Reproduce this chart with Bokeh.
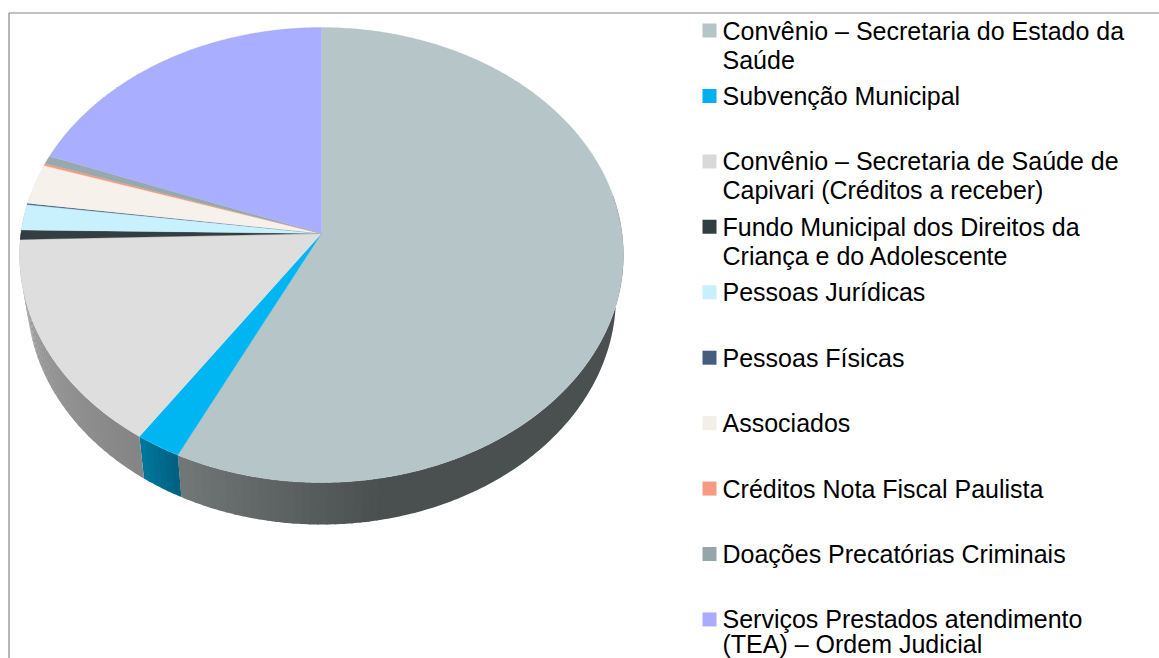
import math
import numpy as np
from bokeh.plotting import figure
from bokeh.models import Range1d
from bokeh.embed import file_html
from bokeh.resources import INLINE
from bokeh.core.properties import value

# ---------------- data ----------------
categories = [
    "Convênio – Secretaria do Estado da Saúde",
    "Subvenção Municipal",
    "Convênio – Secretaria de Saúde de Capivari (Créditos a receber)",
    "Fundo Municipal dos Direitos da Criança e do Adolescente",
    "Pessoas Jurídicas",
    "Pessoas Físicas",
    "Associados",
    "Créditos Nota Fiscal Paulista",
    "Doações Precatórias Criminais",
    "Serviços Prestados atendimento (TEA) – Ordem Judicial",
]
legend_lines = [
    ["Convênio – Secretaria do Estado da", "Saúde"],
    ["Subvenção Municipal"],
    ["Convênio – Secretaria de Saúde de", "Capivari (Créditos a receber)"],
    ["Fundo Municipal dos Direitos da", "Criança e do Adolescente"],
    ["Pessoas Jurídicas"],
    ["Pessoas Físicas"],
    ["Associados"],
    ["Créditos Nota Fiscal Paulista"],
    ["Doações Precatórias Criminais"],
    ["Serviços Prestados atendimento", "(TEA) – Ordem Judicial"],
]
values = [57.2, 2.22, 15.15, 0.67, 1.83, 0.09, 2.85, 0.17, 0.57, 19.24]
top_colors = ["#B6C5C7", "#00B6F2", "#DEDEDE", "#323E41", "#C9F1FD",
              "#46607F", "#F6F1EA", "#F79A7E", "#97A9AD", "#AAAEFE"]
legend_colors = ["#B5C4C6", "#00B0F0", "#D9D9D9", "#323E42", "#C9EFFB",
                 "#465E7E", "#F2EEE8", "#F79A82", "#95A6A9", "#AAAAFF"]
side_light = ["#727878", "#00789C", "#A8A8A8", "#2A3234", "#A8C8D2",
              "#3A4E68", "#CFCAC4", "#D0806A", "#7E8E92", "#8E92D8"]
side_dark = ["#4A4F4F", "#005F80", "#858585", "#1E2426", "#90AEB8",
             "#2E3E52", "#B8B3AD", "#B86C58", "#6A787B", "#7478C0"]
grad_span = [36, 8, 54, 3, 7, 1, 10, 1, 2, 60]

# ---------------- figure ----------------
W, H = 1159, 658
p = figure(width=W, height=H, x_range=Range1d(0, W), y_range=Range1d(H, 0),
           output_backend="svg", toolbar_location=None, min_border=0,
           x_axis_location=None, y_axis_location=None)
p.grid.visible = False
p.outline_line_color = None
p.background_fill_color = "white"
p.border_fill_color = "white"

# frame of chart area (top and left edges visible)
p.line(x=[8.5, 8.5, W], y=[H, 12.5, 12.5], line_color="#868686", line_width=1.2)

# ---------------- 3D pie geometry ----------------
cx, cy = 321, 233
A, B, k = 300.6, 225.5, 0.0945
depth, shrink = 42, 0.975


def proj(theta_deg):
    t = math.radians(theta_deg)
    X, Z = math.sin(t), -math.cos(t)
    d = 1 - k * Z
    return cx + A * X / d, cy + B * Z / d


def bottom(pt):
    return cx + (pt[0] - cx) * shrink, pt[1] + depth


def hex2rgb(h):
    h = h.lstrip("#")
    return [int(h[i:i + 2], 16) for i in (0, 2, 4)]


def lerp(c1, c2, t):
    a, b = hex2rgb(c1), hex2rgb(c2)
    return "#%02x%02x%02x" % tuple(int(round(a[i] + (b[i] - a[i]) * t)) for i in range(3))


def side_patch(t_lo, t_hi, n=None):
    if n is None:
        n = max(2, int(math.ceil((t_hi - t_lo) / 0.7)))
    ths = np.linspace(t_lo, t_hi, n + 1)
    top = [proj(t) for t in ths]
    bot = [bottom(q) for q in top][::-1]
    pts = top + bot
    return [q[0] for q in pts], [q[1] for q in pts]


vals = np.array(values, float)
edges = np.concatenate([[0.0], np.cumsum(vals) / vals.sum() * 360.0])

# sides: flat dark part + gradient bands
sxs, sys_, scol = [], [], []
for i in range(len(values)):
    a0, a1 = edges[i], edges[i + 1]
    lo, hi = max(a0, 80.0), min(a1, 280.0)
    if hi <= lo:
        continue
    g_lo = max(lo, a1 - grad_span[i])
    if g_lo > lo:
        xs_, ys_ = side_patch(lo, g_lo + 0.3)
        sxs.append(xs_); sys_.append(ys_); scol.append(side_dark[i])
    nb = max(1, int(math.ceil((hi - g_lo) / 1.5)))
    bands = np.linspace(g_lo, hi, nb + 1)
    for j in range(nb):
        b0, b1 = bands[j], bands[j + 1]
        xs_, ys_ = side_patch(b0, min(hi, b1 + 0.3))
        tm = 0.5 * (b0 + b1)
        tt = min(1.0, (a1 - tm) / grad_span[i])
        sxs.append(xs_); sys_.append(ys_); scol.append(lerp(side_light[i], side_dark[i], tt))
p.patches(xs=sxs, ys=sys_, fill_color=scol, line_color=None)

# top faces
txs, tys = [], []
for i in range(len(values)):
    a0, a1 = edges[i], edges[i + 1]
    n = max(2, int(math.ceil((a1 - a0) / 0.5)))
    ths = np.linspace(a0, a1, n + 1)
    pts = [proj(t) for t in ths]
    txs.append([cx] + [q[0] for q in pts])
    tys.append([cy] + [q[1] for q in pts])
p.patches(xs=txs, ys=tys, fill_color=top_colors, line_color=top_colors, line_width=0.3)

# ---------------- legend ----------------
row0, row_step, line_h = 30, 65.44, 29
sq_x, txt_x = 709, 722
rx, ry, rc = [], [], []
lx, ly, lt = [], [], []
for i, lines in enumerate(legend_lines):
    yy = row0 + i * row_step
    rx.append(sq_x)
    ry.append(yy)
    rc.append(legend_colors[i])
    for j, s in enumerate(lines):
        lx.append(txt_x)
        ly.append(min(yy + j * line_h, H - 15))
        lt.append(s)
p.rect(x=rx, y=ry, width=14, height=14, fill_color=rc, line_color=None)
p.text(x=lx, y=ly, text=lt, text_font=value("Liberation Sans"), text_font_size="25px",
       text_baseline="middle", text_align="left", text_color="#000000")

open("out.html", "w").write(file_html(p, INLINE))
